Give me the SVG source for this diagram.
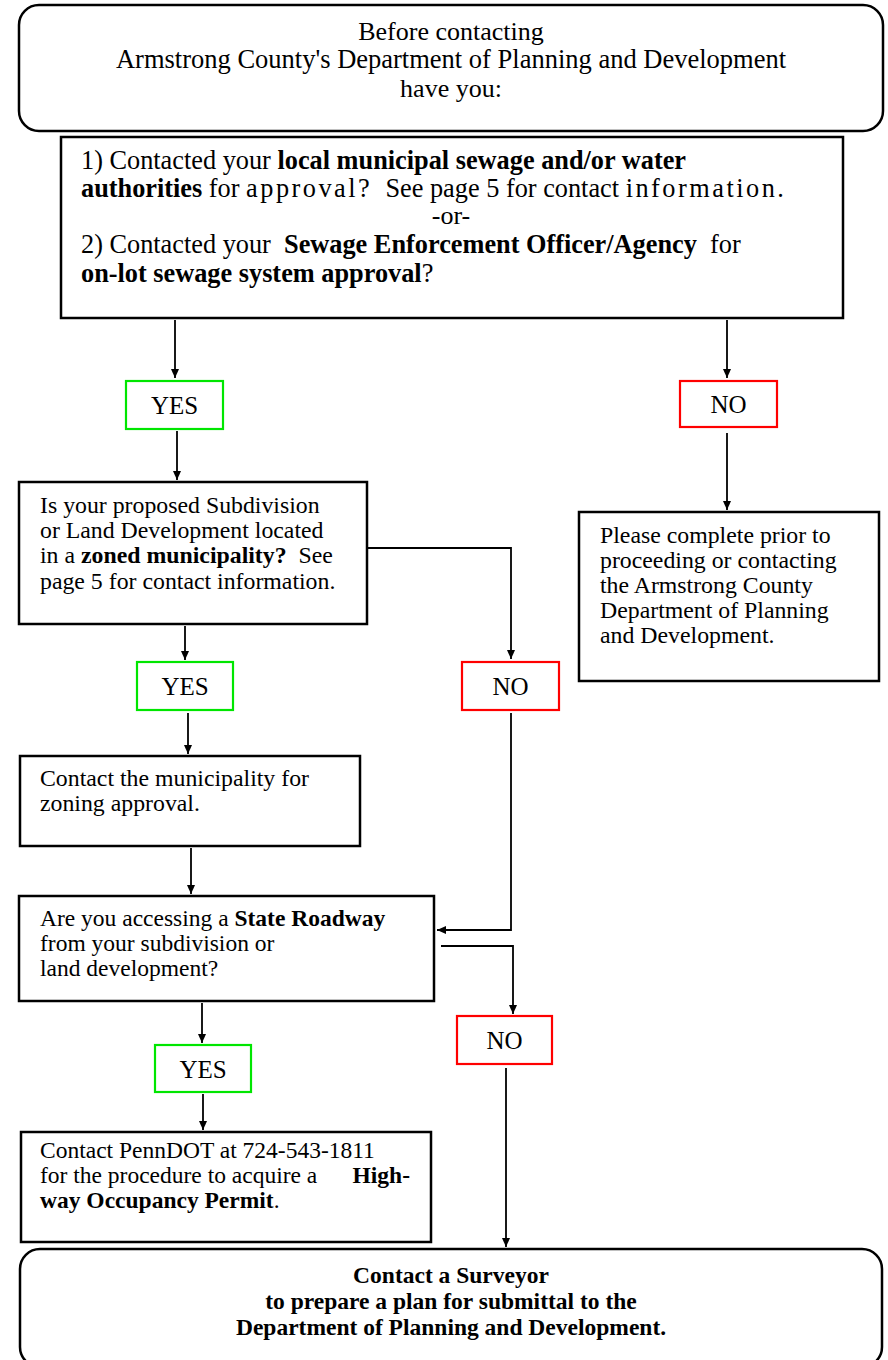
<svg xmlns="http://www.w3.org/2000/svg" width="888" height="1360" viewBox="0 0 888 1360">
<style>
.box{fill:#fff;stroke:#000;stroke-width:2.5}
.yes{fill:#fff;stroke:#00e600;stroke-width:2.2}
.no{fill:#fff;stroke:#ff0000;stroke-width:2.2}
.t{font-family:"Liberation Serif","Times New Roman",serif;fill:#000}
.b{font-weight:bold}
.c{text-anchor:middle}
.conn{fill:none;stroke:#000;stroke-width:1.8}
</style>
<defs>
<marker id="ah" markerUnits="userSpaceOnUse" markerWidth="10" markerHeight="10" viewBox="0 0 10 10" refX="9" refY="5" orient="auto">
<path d="M0,1 L9,5 L0,9 Z" fill="#000"/>
</marker>
</defs>
<rect width="888" height="1360" fill="#fff"/>

<g id="connectors">
<path class="conn" d="M175 320 V378" marker-end="url(#ah)"/>
<path class="conn" d="M727 320 V378" marker-end="url(#ah)"/>
<path class="conn" d="M177 431 V480" marker-end="url(#ah)"/>
<path class="conn" d="M727 433 V510" marker-end="url(#ah)"/>
<path class="conn" d="M367 548 H511 V659" marker-end="url(#ah)"/>
<path class="conn" d="M185 626 V660" marker-end="url(#ah)"/>
<path class="conn" d="M188 713 V754" marker-end="url(#ah)"/>
<path class="conn" d="M191 848 V894" marker-end="url(#ah)"/>
<path class="conn" d="M511 713 V930 H437" marker-end="url(#ah)"/>
<path class="conn" d="M441 946 H513 V1014" marker-end="url(#ah)"/>
<path class="conn" d="M202 1003 V1043" marker-end="url(#ah)"/>
<path class="conn" d="M203 1094 V1130" marker-end="url(#ah)"/>
<path class="conn" d="M506 1068 V1247" marker-end="url(#ah)"/>
</g>

<g id="start">
<rect class="box" x="19" y="5" width="864" height="126" rx="20"/>
<text class="t c" font-size="26" x="451" y="40">Before contacting</text>
<text class="t c" font-size="26.5" x="451" y="68">Armstrong County's Department of Planning and Development</text>
<text class="t c" font-size="26" x="451" y="97">have you:</text>
</g>

<g id="q1">
<rect class="box" x="61" y="137" width="782" height="181"/>
<text class="t" font-size="26.3" x="81" y="169" xml:space="preserve">1) Contacted your <tspan class="b">local municipal sewage and/or water</tspan></text>
<text class="t" font-size="26.3" x="81" y="197" xml:space="preserve"><tspan class="b">authorities</tspan> for <tspan letter-spacing="2.5">approval?</tspan>  See page 5 for contact <tspan letter-spacing="2.5">information.</tspan></text>
<text class="t c" font-size="26" x="451" y="224">-or-</text>
<text class="t" font-size="26.3" x="81" y="253" xml:space="preserve">2) Contacted your  <tspan class="b">Sewage Enforcement Officer/Agency</tspan>  for</text>
<text class="t" font-size="26.3" x="81" y="282"><tspan class="b">on-lot sewage system approval</tspan>?</text>
</g>

<g id="yes1">
<rect class="yes" x="126" y="381" width="97" height="48"/>
<text class="t c" font-size="25" x="174.5" y="414">YES</text>
</g>
<g id="no1">
<rect class="no" x="680" y="381" width="97" height="46"/>
<text class="t c" font-size="25" x="728.5" y="413">NO</text>
</g>

<g id="q2">
<rect class="box" x="19" y="482" width="348" height="142"/>
<text class="t" font-size="23.8" x="40" y="513">Is your proposed Subdivision</text>
<text class="t" font-size="23.8" x="40" y="538">or Land Development located</text>
<text class="t" font-size="23.8" x="40" y="563" xml:space="preserve">in a <tspan class="b">zoned municipality?</tspan>  See</text>
<text class="t" font-size="23.8" x="40" y="589">page 5 for contact information.</text>
</g>

<g id="stop">
<rect class="box" x="579" y="512" width="300" height="169"/>
<text class="t" font-size="23.8" x="600" y="543">Please complete prior to</text>
<text class="t" font-size="23.8" x="600" y="568">proceeding or contacting</text>
<text class="t" font-size="23.8" x="600" y="593">the Armstrong County</text>
<text class="t" font-size="23.8" x="600" y="618">Department of Planning</text>
<text class="t" font-size="23.8" x="600" y="643">and Development.</text>
</g>

<g id="yes2">
<rect class="yes" x="137" y="662" width="96" height="48"/>
<text class="t c" font-size="25" x="185" y="695">YES</text>
</g>
<g id="no2">
<rect class="no" x="462" y="662" width="97" height="48"/>
<text class="t c" font-size="25" x="510.5" y="695">NO</text>
</g>

<g id="zoning">
<rect class="box" x="20" y="756" width="340" height="90"/>
<text class="t" font-size="23.8" x="40" y="786">Contact the municipality for</text>
<text class="t" font-size="23.8" x="40" y="811">zoning approval.</text>
</g>

<g id="q3">
<rect class="box" x="19" y="896" width="415" height="105"/>
<text class="t" font-size="23.5" x="40" y="926">Are you accessing a <tspan class="b">State Roadway</tspan></text>
<text class="t" font-size="23.5" x="40" y="951">from your subdivision or</text>
<text class="t" font-size="23.5" x="40" y="976">land development?</text>
</g>

<g id="no3">
<rect class="no" x="457" y="1016" width="95" height="48"/>
<text class="t c" font-size="25" x="504.5" y="1049">NO</text>
</g>
<g id="yes3">
<rect class="yes" x="155" y="1045" width="96" height="47"/>
<text class="t c" font-size="25" x="203" y="1078">YES</text>
</g>

<g id="penndot">
<rect class="box" x="21" y="1132" width="410" height="110"/>
<text class="t" font-size="23.5" x="40" y="1158">Contact PennDOT at 724-543-1811</text>
<text class="t" font-size="23.5" x="40" y="1183">for the procedure to acquire a <tspan class="b" x="410" text-anchor="end">High-</tspan></text>
<text class="t" font-size="23.5" x="40" y="1208"><tspan class="b">way Occupancy Permit</tspan>.</text>
</g>

<g id="end">
<rect class="box" x="20" y="1249" width="862" height="118" rx="20"/>
<text class="t c b" font-size="23.5" x="451" y="1283">Contact a Surveyor</text>
<text class="t c b" font-size="23.5" x="451" y="1309">to prepare a plan for submittal to the</text>
<text class="t c b" font-size="23.5" x="451" y="1335">Department of Planning and Development.</text>
</g>
</svg>
